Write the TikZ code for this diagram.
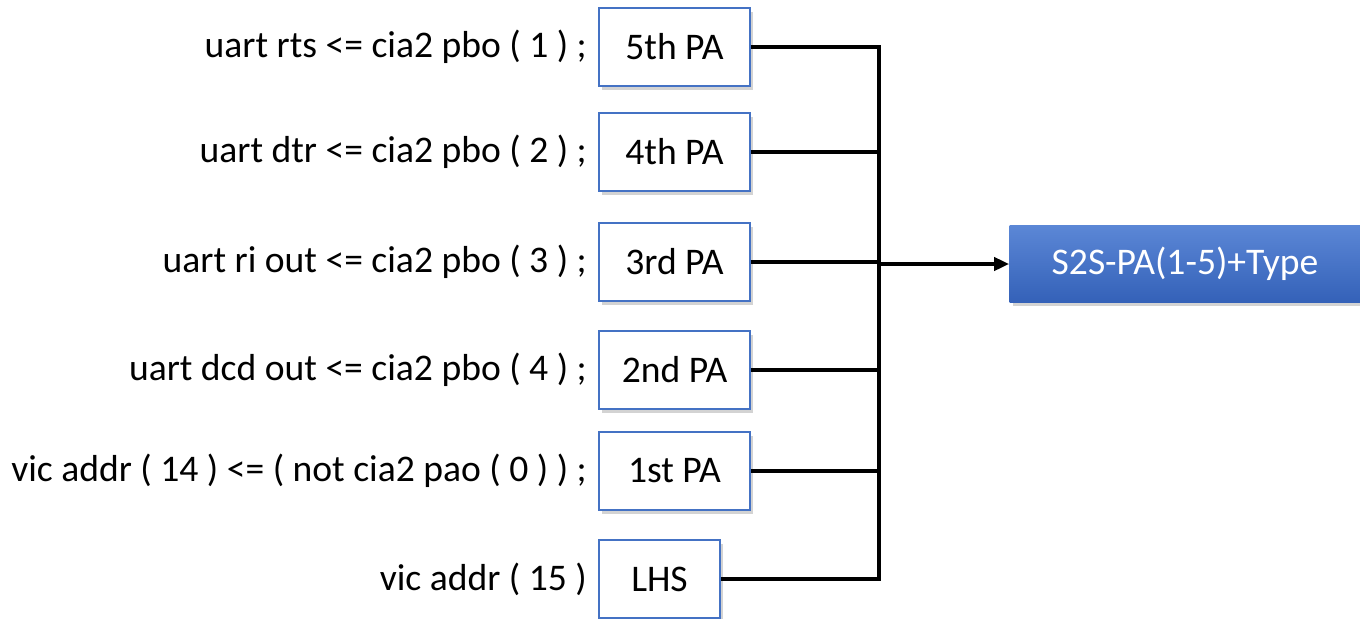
\documentclass[tikz,border=0pt]{standalone}
\usepackage{fontspec}
\setmainfont{Carlito}
\usepackage{tikz}
\usetikzlibrary{arrows.meta, positioning, shadows}
\usepackage{xcolor}
\definecolor{boxline}{HTML}{4472C4}
\definecolor{typetop}{HTML}{5B87D6}
\definecolor{typebot}{HTML}{3461B8}
\tikzset{%
	pa box/.style={
		rectangle,
		draw=boxline,
		line width=0.9pt,
		fill=white,
		minimum width=3.02cm,
		minimum height=1.55cm,
		drop shadow={shadow xshift=0.06cm, shadow yshift=-0.08cm, opacity=0.35},
		font=\fontsize{21.4}{25}\selectfont
	},
	pa label/.style={
		inner sep=0pt,
		font=\fontsize{21.4}{25}\selectfont
	},
	wire/.style={
		line width=2.1pt,
		line join=miter
	},
	type box/.style={
		rectangle,
		draw=none,
		top color=typetop,
		bottom color=typebot,
		text=white,
		minimum width=7.02cm,
		minimum height=1.54cm,
		drop shadow={shadow xshift=0.06cm, shadow yshift=-0.08cm, opacity=0.35},
		font=\fontsize{21.4}{25}\selectfont
	},
}
\begin{document}
\begin{tikzpicture}[x=0.02cm, y=-0.02cm, >={Triangle[length=0.3cm, width=0.26cm]}]

			\useasboundingbox (0,0) rectangle (1360,619);

			\foreach \m/\t/\y in {5/5th PA/47, 4/4th PA/152, 3/3rd PA/262, 2/2nd PA/370, 1/1st PA/471}
			\node [pa box] (pa-\m) at (674.5,\y) {\t};
			\node [pa box, minimum width=2.42cm] (lhs) at (659.5,579) {LHS};

			\foreach \m/\l in {5/uart rts <= cia2 pbo ( 1 ) ;,
				4/uart dtr <= cia2 pbo ( 2 ) ;,
				3/uart ri out <= cia2 pbo ( 3 ) ;,
				2/uart dcd out <= cia2 pbo ( 4 ) ;,
				1/vic addr ( 14 ) <= ( not cia2 pao ( 0 ) ) ;}
			\node [pa label, left=0.22cm of pa-\m] (in-\m) {\l};
			\node [pa label, left=0.22cm of lhs] (in-lhs) {vic addr ( 15 )};

			\node [type box] (s2s) at (1185,264) {S2S-PA(1-5)+Type};

			\coordinate (bus) at (879,47);
			\draw [wire] (pa-5.east) -| (lhs.east -| bus) -- (lhs.east);
			\foreach \m in {4,...,1}
			\draw [wire] (pa-\m.east) -- (pa-\m.east -| bus);

			\draw [wire, ->] (s2s.west -| bus) -- (s2s.west);

\end{tikzpicture}
\end{document}
